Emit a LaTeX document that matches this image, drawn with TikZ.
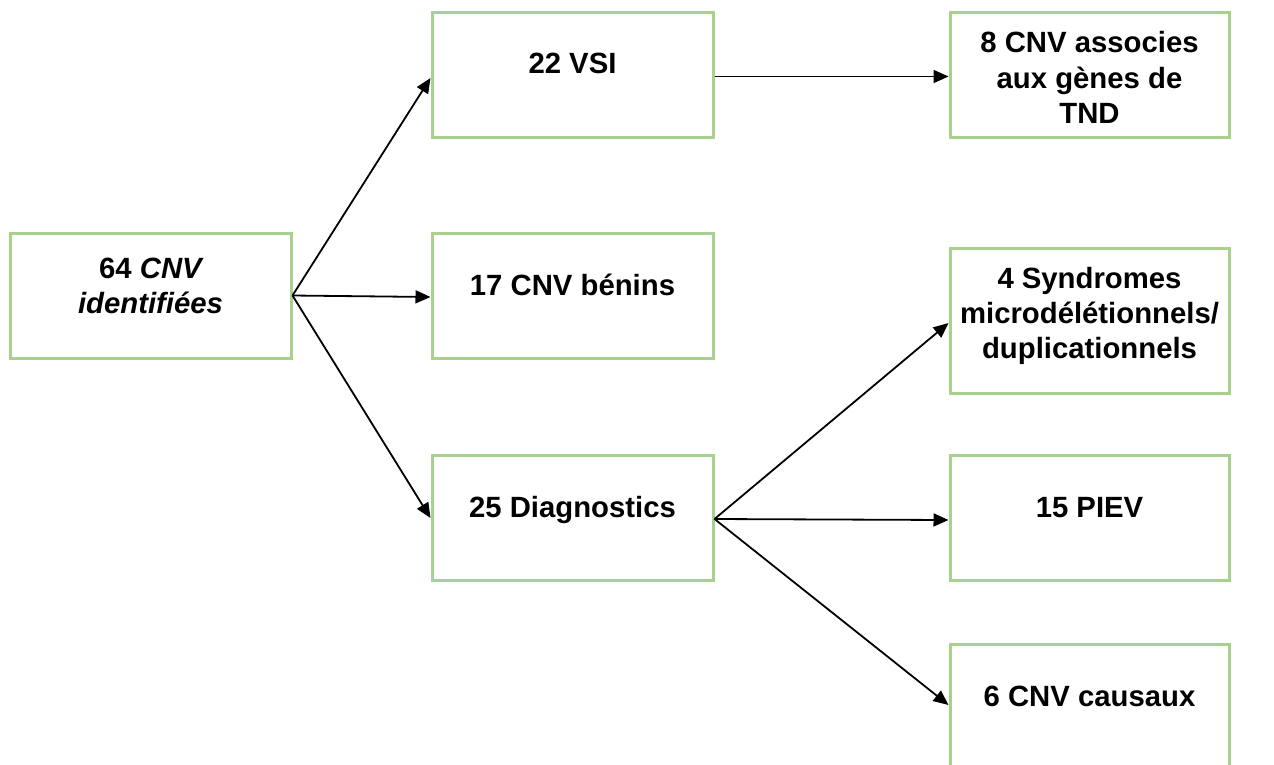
\documentclass[tikz,border=0pt]{standalone}
\usepackage{fontspec}
\setmainfont{Liberation Sans}
\usetikzlibrary{arrows.meta}
\definecolor{boxgreen}{RGB}{169,209,142}
\tikzset{
  box/.style={draw=boxgreen, line width=3pt, fill=white, minimum width=281pt, minimum height=125pt, inner sep=0pt},
  rbox/.style={box, minimum width=279pt},
  lbl/.style={anchor=base, inner sep=0pt, font=\fontsize{29.3}{33.7}\selectfont\bfseries},
  conn/.style={draw=black, line width=1.8pt, -{Triangle[length=15pt,width=13pt]}}
}
\begin{document}
\begin{tikzpicture}[x=1pt,y=-1pt]
\useasboundingbox (0,0) rectangle (1274,764);
\clip (0,0) rectangle (1274,764);
\fill[white] (0,0) rectangle (1274,764);
% boxes
\node[box] (src) at (150.5,295.5) {};
\node[box] (vsi) at (572.5,74.5) {};
\node[box] (ben) at (572.5,295.5) {};
\node[box] (diag) at (572.5,518) {};
\node[rbox] (tnd) at (1089.5,74.5) {};
\node[rbox, minimum height=145pt] (syn) at (1089.5,320.5) {};
\node[rbox] (piev) at (1089.5,518) {};
\node[rbox] (caus) at (1089.5,706.5) {};
% texts
\node[lbl] (t1a) at (150.5,278) {64 \itshape CNV};
\node[lbl] (t1b) at (150.5,313.5) {\itshape identifiées};
\node[lbl] (t2) at (572.5,73) {22 VSI};
\node[lbl] (t3) at (572.5,295) {17 CNV bénins};
\node[lbl] (t4) at (572.5,517) {25 Diagnostics};
\node[lbl] (t5a) at (1089.5,52.5) {8 CNV associes};
\node[lbl] (t5b) at (1089.5,88) {aux gènes de};
\node[lbl] (t5c) at (1089.5,123.5) {TND};
\node[lbl] (t6a) at (1089.5,288) {4 Syndromes};
\node[lbl] (t6b) at (1089.5,323) {microdélétionnels/};
\node[lbl] (t6c) at (1089.5,358) {duplicationnels};
\node[lbl] (t7) at (1089.5,517) {15 PIEV};
\node[lbl] (t8) at (1089.5,706) {6 CNV causaux};
% connectors
\draw[conn] (src.east) -- ([yshift=-3.5pt]vsi.west);
\draw[conn] (src.east) -- ([yshift=-1.5pt]ben.west);
\draw[conn] (src.east) -- (diag.west);
\draw[conn] ([yshift=-2pt]vsi.east) -- ([yshift=-2pt]tnd.west);
\draw[conn] ([yshift=-1pt]diag.east) -- ([yshift=-2.5pt]syn.west);
\draw[conn] ([yshift=-1pt]diag.east) -- ([yshift=-2pt]piev.west);
\draw[conn] ([yshift=-1pt]diag.east) -- ([yshift=1.5pt]caus.west);
\end{tikzpicture}
\end{document}
